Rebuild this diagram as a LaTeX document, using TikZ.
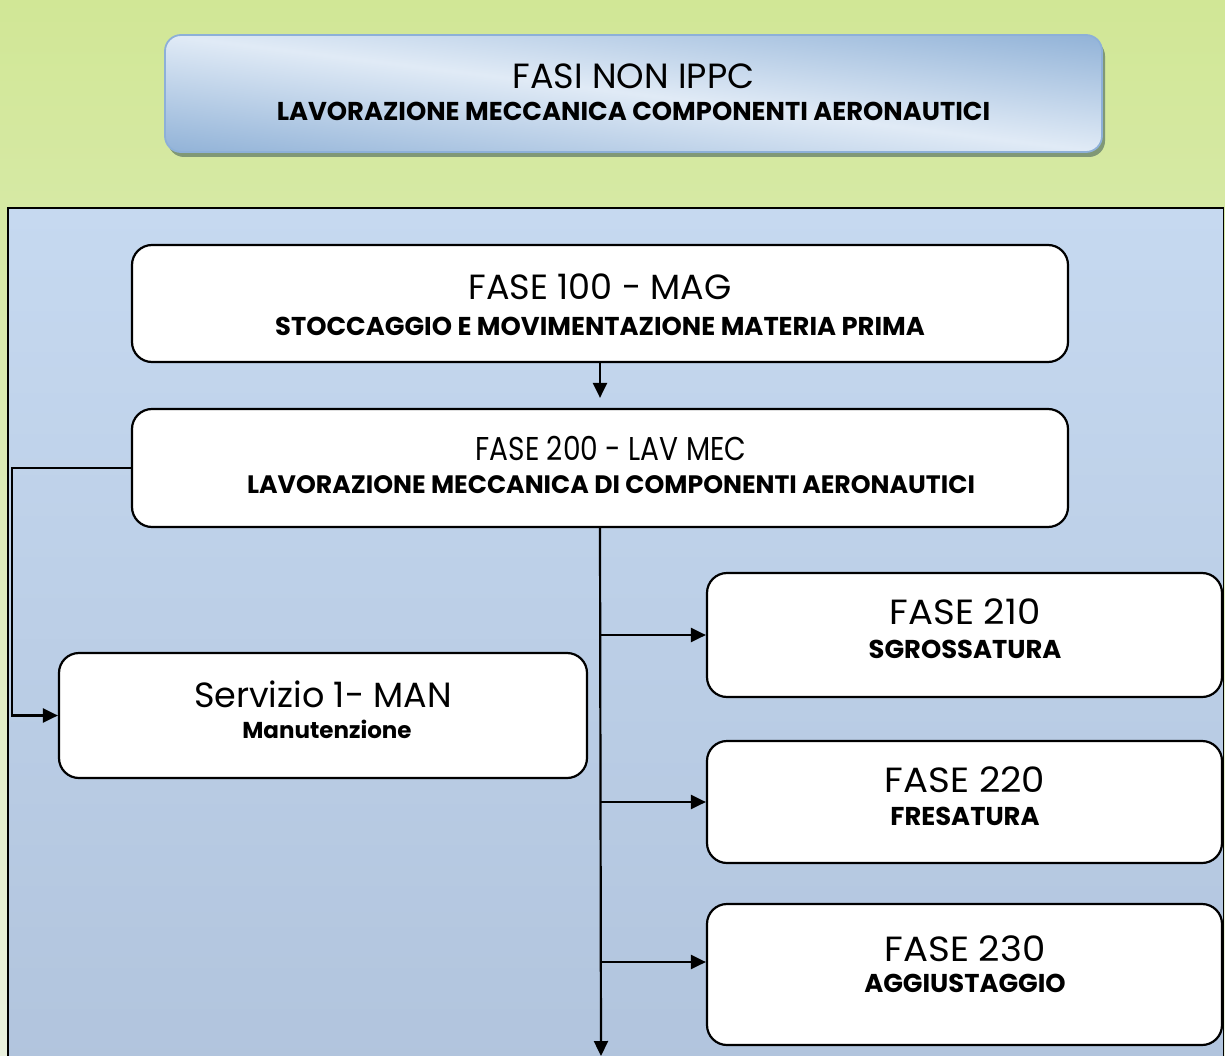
\documentclass[tikz,border=0pt]{standalone}
\usepackage{fontspec}
\setmainfont{Poppins}
\usetikzlibrary{arrows.meta,calc,shadows}

\definecolor{bggreentop}{RGB}{209,231,150}
\definecolor{bggreenlow}{RGB}{234,241,222}
\definecolor{paneltop}{RGB}{198,217,240}
\definecolor{panelbot}{RGB}{177,196,221}
\definecolor{hdrborder}{RGB}{141,176,216}
\definecolor{hdrshadow}{RGB}{128,152,118}

% diagonal band: dark toward lower-left and upper-right corners, light in between
\pgfdeclarefunctionalshading{hdrshade}{\pgfpoint{0bp}{0bp}}{\pgfpoint{100bp}{100bp}}{}{
  add 100 sub 50 div abs dup 1 gt {pop 1} if
  dup 0.31 mul 0.88 exch sub
  exch dup 0.22 mul 0.92 exch sub
  exch 0.12 mul 0.965 exch sub
}

\begin{document}
\begin{tikzpicture}[x=1pt,y=-1pt,
  phase/.style={draw=black, line width=2.2pt, fill=white, rounded corners=20pt, inner sep=0pt},
  flow/.style={line width=2.2pt, -{Triangle[length=15pt,width=14pt]}},
  lt/.style={font=\fontsize{35}{38}\selectfont, inner sep=0pt},
  bd/.style={font=\fontsize{25.8}{28}\selectfont\bfseries, inner sep=0pt},
  bdl/.style={font=\fontsize{23}{26}\selectfont\bfseries, inner sep=0pt},
]
\useasboundingbox (0,0) rectangle (1225,1056);

% page and panel backgrounds
\shade[top color=bggreentop, bottom color=bggreenlow] (0,0) rectangle (1225,1056);
\shade[top color=paneltop, bottom color=panelbot, draw=black, line width=1.8pt]
  (8,208) rectangle (1223.5,1070);

% title banner
\node[shade, shading=hdrshade, draw=hdrborder, line width=1.8pt, rounded corners=16pt,
      minimum width=937pt, minimum height=117pt,
      drop shadow={shadow xshift=3pt, shadow yshift=-5pt, fill=hdrshadow, opacity=1}]
  (hdr) at (633.5,93.5) {};
\node[lt] (hdrA) at (633.5,76) {FASI NON IPPC};
\node[bd] (hdrB) at (633.5,111) {LAVORAZIONE MECCANICA COMPONENTI AERONAUTICI};

% process boxes
\node[phase, minimum width=936pt, minimum height=117pt] (b100) at (600,303.5) {};
\node[phase, minimum width=936pt, minimum height=118pt] (b200) at (600,468) {};
\node[phase, minimum width=515pt, minimum height=124pt] (b210) at (964.5,635) {};
\node[phase, minimum width=515pt, minimum height=122pt] (b220) at (964.5,802) {};
\node[phase, minimum width=515pt, minimum height=141pt] (b230) at (964.5,974.5) {};
\node[phase, minimum width=528pt, minimum height=125pt] (man) at (323,715.5) {};

% box texts
\node[lt] (t100a) at (600,287) {FASE 100 - MAG};
\node[bd] (t100b) at (600,326) {STOCCAGGIO E MOVIMENTAZIONE MATERIA PRIMA};
\node[lt, font=\fontsize{33}{36}\selectfont] (t200a) at (611,448) {\scalebox{0.85}[1]{FASE 200 - LAV MEC}};
\node[bd, font=\fontsize{25.2}{28}\selectfont\bfseries] (t200b) at (611,485) {LAVORAZIONE MECCANICA DI COMPONENTI AERONAUTICI};
\node[lt] (t210a) at (965,612) {\scalebox{1.06}[1]{FASE 210}};
\node[bd] (t210b) at (965,649) {SGROSSATURA};
\node[lt] (t220a) at (965,780) {\scalebox{1.06}[1]{FASE 220}};
\node[bd] (t220b) at (965,816) {FRESATURA};
\node[lt] (t230a) at (965,949) {\scalebox{1.06}[1]{FASE 230}};
\node[bd] (t230b) at (965,983) {AGGIUSTAGGIO};
\node[lt] (tmana) at (323,694) {Servizio 1- MAN};
\node[bdl] (tmanb) at (327,729) {Manutenzione};

% connectors
\coordinate (lbend) at (12,468);
\coordinate (trunkend) at (601,1056);
\coordinate (j230) at (601,962);

\draw[flow, shorten >=10pt] (b100.south) -- (b200.north);
\draw[flow] (b200.west) -- (lbend) |- (man.west);
\draw[flow] (b200.south) -- (trunkend);
\draw[flow] (b200.south |- b210.west) -- (b210.west);
\draw[flow] (b200.south |- b220.west) -- (b220.west);
\draw[flow] (j230) -- (j230 -| b230.west);
\end{tikzpicture}
\end{document}
